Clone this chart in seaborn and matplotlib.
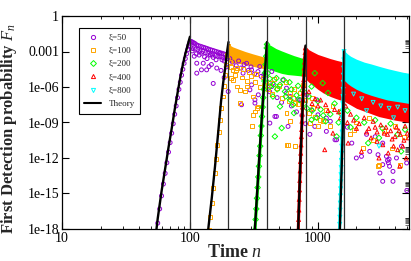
import numpy as np
import matplotlib
matplotlib.use("Agg")
import matplotlib.pyplot as plt
import seaborn as sns
from matplotlib.lines import Line2D
from matplotlib.ticker import FixedLocator, LogLocator, NullFormatter

# values: n and log10(F_n)
xis = [50, 100, 200, 400, 800]
labels = ['ξ=50', 'ξ=100', 'ξ=200', 'ξ=400', 'ξ=800']
colors = ['#9400d3', '#ffa500', '#00ff00', '#ff0000', '#00ffff']
markers = ['o', 's', 'D', '^', 'v']
peak_n = [100, 200, 400, 800, 1600]

# --- xi = 50 ---
theory50 = [(53, -19.3), (56, -17.1), (60, -14.8), (64, -12.9), (68, -11.1), (72, -9.5), (76, -7.9),
            (80, -6.5), (84, -5.2), (88, -4.1), (92, -3.2), (96, -2.45), (100, -1.75)]
rise50 = [(54, -18.6), (56, -17.5), (58, -16.3), (60, -15.2), (62, -14.2), (64, -13.3), (66, -12.4),
          (68, -11.5), (70, -10.7), (72, -9.9), (74, -9.1), (76, -8.3), (78, -7.6), (80, -6.9),
          (82, -6.2), (84, -5.6), (86, -5.0), (88, -4.5), (90, -4.0), (92, -3.6), (94, -3.2),
          (96, -2.85), (98, -2.5), (100, -2.2)]
scat50 = [(102, -2.15), (104, -2.2), (106, -2.25), (108, -2.3), (110, -2.35), (113, -2.45), (116, -2.5),
          (120, -2.55), (124, -2.6), (128, -2.65), (132, -2.7), (136, -2.75), (140, -2.8), (145, -2.85),
          (150, -2.9), (155, -2.95), (160, -3.0), (166, -3.05), (172, -3.1), (178, -3.15), (184, -3.2),
          (190, -3.25), (196, -3.3),
          (101, -2.6), (105, -2.75), (110, -2.8), (115, -2.85), (120, -2.95), (126, -3.0), (132, -3.1),
          (138, -3.15), (144, -3.25), (150, -3.3), (158, -3.35), (165, -3.4), (172, -3.45), (180, -3.5),
          (188, -3.55), (196, -3.6),
          (104, -2.95), (112, -3.2), (118, -3.3), (123, -3.15), (130, -3.45), (144, -3.3), (160, -3.7),
          (171, -3.15), (185, -3.8), (108, -3.4), (136, -3.6), (152, -3.5), (178, -3.7),
          (113, -3.99), (123, -4.55), (127, -3.99), (135, -4.55), (141, -4.27), (147, -4.1), (152, -5.7),
          (199, -6.38), (113, -4.83), (162, -4.4), (175, -4.6), (185, -5.2), (192, -4.3),
          (205, -3.6), (215, -3.9), (230, -4.2), (240, -3.8), (250, -4.4), (265, -4.1), (285, -4.6),
          (300, -4.3), (320, -4.9), (340, -4.7), (360, -5.1), (390, -5.0),
          (260, -4.83), (277, -4.0), (294, -6.24), (303, -5.82), (303, -4.55), (322, -7.08), (342, -6.66),
          (351, -4.27), (378, -4.97), (253, -7.5), (436, -4.69), (436, -5.96), (445, -5.67), (474, -8.49),
          (532, -5.4), (568, -6.1), (568, -6.52), (608, -6.8), (700, -7.08), (724, -7.08), (820, -6.66),
          (892, -7.93), (978, -7.08), (1164, -8.63),
          (420, -6.4), (480, -6.9), (520, -7.3), (620, -7.6), (680, -8.1), (750, -8.4), (800, -9.1),
          (322, -7.36), (461, -8.49), (421, -9.05), (584, -9.33), (865, -10.0), (945, -9.33), (1000, -8.35),
          (1164, -9.75), (1400, -10.46), (1360, -10.46), (1840, -10.74), (1996, -12.0), (2190, -11.86),
          (2540, -11.44), (2950, -11.72), (3430, -11.86), (3210, -12.56), (3860, -13.13), (4110, -12.0),
          (3210, -13.97), (3860, -13.97), (4940, -12.42), (4950, -14.75), (3630, -12.7), (3050, -13.27),
          (3210, -10.74), (3500, -12.2), (3550, -12.4), (3600, -12.1), (2800, -10.2), (4500, -11.0),
          (2400, -10.0), (1700, -9.4), (1250, -8.9)]

# --- xi = 100 ---
theory100 = [(136, -19.0), (140, -17.7), (148, -15.4), (157, -12.7), (166, -9.9), (175, -7.2), (182, -5.6),
             (188, -4.5), (194, -3.2), (200, -2.2)]
rise100 = [(140, -18.1), (144, -17.0), (148, -15.8), (152, -14.5), (156, -13.3), (160, -12.1), (164, -10.9),
           (168, -9.8), (172, -8.8), (176, -7.8), (180, -6.8), (184, -5.9), (188, -5.0), (192, -4.1),
           (196, -3.3), (200, -2.5)]
band100_n = [200, 204, 215, 240, 270, 310, 360, 400]
band100_hi = [-2.35, -2.45, -2.6, -2.8, -3.0, -3.2, -3.4, -3.55]
band100_lo = [-3.9, -3.9, -3.95, -4.0, -4.1, -4.25, -4.4, -4.5]
scat100 = [(205, -3.9), (210, -4.3), (218, -5.4), (211, -5.25), (233, -5.96), (245, -6.24), (268, -6.38),
           (245, -7.36), (277, -5.96), (311, -6.8), (322, -8.07), (342, -7.65), (303, -9.33), (421, -5.67),
           (608, -6.52), (663, -7.36), (920, -7.78), (1164, -7.93), (865, -9.05), (1030, -8.77),
           (568, -10.88), (663, -10.96), (3000, -12.6), (311, -8.35), (333, -7.78), (568, -8.2),
           (608, -8.91), (584, -10.88), (663, -11.02), (1000, -9.33), (1780, -10.0), (2260, -11.16),
           (2950, -12.7), (4370, -12.56), (230, -4.6), (260, -4.5), (290, -4.7), (330, -4.9), (370, -5.2),
           (450, -5.3), (500, -5.9), (560, -5.6), (650, -6.2), (720, -6.5), (760, -5.8), (900, -6.9),
           (1300, -7.6), (1500, -8.0), (2000, -9.0), (2500, -8.6), (3300, -9.7), (4000, -9.3),
           (4700, -10.2), (2700, -10.5), (3800, -11.2), (1900, -9.6),
           (215, -4.6), (225, -5.0), (235, -4.4), (255, -5.2), (280, -5.5), (300, -5.1), (320, -5.6),
           (350, -6.0), (380, -5.8), (410, -6.2), (440, -6.6), (480, -6.1), (520, -6.9), (590, -7.2),
           (640, -6.9), (700, -7.4), (800, -7.1), (850, -8.2), (950, -8.5), (1100, -8.9), (1250, -9.3)]

# --- xi = 200 ---
theory200 = [(314, -19.5), (322, -17.9), (332, -15.6), (342, -13.3), (352, -11.1), (362, -9.0), (372, -7.1),
             (382, -5.3), (392, -3.6), (400, -2.2)]
rise200 = [(322, -18.1), (326, -17.2), (330, -16.3), (334, -15.4), (338, -14.5), (342, -13.6), (346, -12.7),
           (350, -11.8), (354, -11.0), (358, -10.1), (362, -9.3), (366, -8.5), (370, -7.7), (374, -6.9),
           (378, -6.2), (382, -5.5), (386, -4.8), (390, -4.1), (394, -3.4), (398, -2.7), (400, -2.4)]
band200_n = [400, 405, 430, 470, 520, 580, 650, 720, 800]
band200_hi = [-2.3, -2.35, -2.5, -2.75, -2.95, -3.15, -3.35, -3.5, -3.65]
band200_lo = [-4.4, -4.45, -4.55, -4.7, -4.85, -4.95, -5.0, -5.05, -5.1]
scat200 = [(406, -4.83), (474, -5.25), (505, -5.82), (553, -6.38), (445, -6.8), (608, -7.08), (638, -7.5),
           (892, -5.96), (945, -4.83), (1090, -5.67), (421, -5.96), (505, -7.65), (521, -9.47),
           (461, -10.18), (892, -8.77), (1400, -10.18), (2470, -10.74), (4470, -11.44), (420, -5.3),
           (540, -5.4), (600, -5.6), (700, -5.9), (760, -6.3), (850, -6.8), (1000, -7.2), (1200, -6.5),
           (1350, -7.4), (1500, -8.2), (1700, -8.0), (2000, -8.6), (2300, -9.0), (2800, -8.8), (3200, -9.5),
           (3700, -9.1), (4200, -10.0), (4800, -9.6), (3000, -10.3), (1800, -9.4), (650, -8.2), (780, -7.4),
           (1100, -8.4), (450, -5.8), (480, -6.2), (560, -6.8), (620, -6.2), (680, -6.7), (720, -7.1),
           (820, -7.8), (900, -8.0), (980, -8.6), (1050, -7.9), (1150, -8.9), (1250, -8.3), (1450, -9.0)]

# --- xi = 400 ---
theory400 = [(690, -19.3), (702, -17.9), (716, -15.0), (730, -12.2), (745, -9.8), (760, -7.6), (775, -5.6),
             (790, -3.7), (800, -2.5)]
rise400 = [(702, -18.0), (706, -17.2), (710, -16.4), (714, -15.5), (718, -14.7), (722, -13.9), (726, -13.1),
           (730, -12.3), (734, -11.6), (738, -10.9), (742, -10.2), (746, -9.6), (750, -8.9), (754, -8.3),
           (758, -7.7), (762, -7.1), (766, -6.5), (770, -5.9), (774, -5.4), (778, -4.9), (782, -4.4),
           (786, -3.9), (790, -3.5), (794, -3.1), (798, -2.7)]
band400_n = [800, 815, 850, 900, 1000, 1100, 1250, 1400, 1600, 2000, 3000, 4000, 5200]
band400_hi = [-2.5, -2.65, -2.85, -3.0, -3.25, -3.4, -3.6, -3.75, -3.9, -4.1, -4.5, -4.7, -4.9]
band400_lo = [-5.2, -5.4, -5.6, -5.8, -6.2, -6.5, -6.8, -7.0, -7.2, -7.8, -8.5, -8.8, -9.0]
scat400 = [(1130, -11.3), (1310, -9.9), (1720, -10.74), (2190, -11.44), (3540, -11.58), (4360, -12.7),
           (3210, -10.88), (3000, -12.0), (2600, -10.3), (4000, -10.2), (4600, -11.0), (4900, -12.0),
           (2000, -9.5), (2400, -9.8), (3300, -9.9), (3800, -10.4), (4300, -9.7), (1500, -8.6), (1200, -8.0),
           (1000, -7.6), (900, -7.4), (1700, -9.0), (2800, -9.4), (3500, -10.0), (4700, -10.5), (5000, -9.9),
           (850, -6.4), (950, -7.0), (1050, -7.1), (1150, -7.5), (1350, -7.9), (1450, -8.1),
           (1650, -7.6), (1800, -8.3), (1900, -8.8), (2100, -9.1), (2300, -8.6), (2500, -9.5), (2700, -8.9),
           (2900, -9.8), (3100, -9.2), (3400, -9.4), (3700, -9.7), (4100, -9.4), (4400, -10.0), (4800, -9.3),
           (5100, -10.3), (3900, -11.0), (4200, -11.3), (2900, -10.6)]

# --- xi = 800 ---
theory800 = [(1460, -19.5), (1485, -17.9), (1510, -15.2), (1535, -12.6), (1555, -10.5), (1575, -8.0),
             (1590, -5.8), (1600, -3.0)]
rise800 = [(1475, -18.2), (1480, -17.6), (1485, -17.0), (1490, -16.4), (1495, -15.8), (1500, -15.2),
           (1505, -14.6), (1510, -14.0), (1515, -13.4), (1520, -12.8), (1525, -12.2), (1530, -11.6),
           (1535, -11.0), (1540, -10.4), (1545, -9.8), (1550, -9.2), (1555, -8.6), (1560, -8.0),
           (1565, -7.4), (1570, -6.8), (1575, -6.2), (1580, -5.6), (1585, -5.0), (1590, -4.4),
           (1595, -3.7), (1600, -3.0)]
band800_n = [1600, 1630, 1700, 1800, 2000, 2300, 2600, 3000, 3500, 4000, 4600, 5200]
band800_hi = [-2.85, -3.0, -3.2, -3.4, -3.65, -3.9, -4.05, -4.25, -4.45, -4.6, -4.75, -4.85]
band800_lo = [-5.4, -5.5, -5.7, -5.9, -6.2, -6.5, -6.7, -6.9, -7.1, -7.2, -7.3, -7.4]
scat800 = [(1900, -6.6), (2200, -7.0), (2700, -7.3), (3100, -7.6), (3600, -7.8), (4200, -7.7), (4800, -8.0),
           (2400, -8.0), (3900, -8.6), (3000, -11.0)]

theories = [theory50, theory100, theory200, theory400, theory800]
rises = [rise50, rise100, rise200, rise400, rise800]
scats = [scat50, scat100, scat200, scat400, scat800]
bands = [None, (band100_n, band100_lo, band100_hi), (band200_n, band200_lo, band200_hi),
         (band400_n, band400_lo, band400_hi), (band800_n, band800_lo, band800_hi)]


def unpack(pts):
    a = np.array(pts, dtype=float)
    return a[:, 0], 10.0 ** a[:, 1]


sns.set_theme(style='ticks')
plt.rcParams['font.family'] = ['Liberation Serif', 'DejaVu Serif']
plt.rcParams['mathtext.fontset'] = 'custom'
plt.rcParams['mathtext.rm'] = 'Liberation Serif'
plt.rcParams['mathtext.it'] = 'Liberation Serif:italic'
plt.rcParams['mathtext.bf'] = 'Liberation Serif:bold'

fig = plt.figure(figsize=(4.11, 2.61), dpi=100)
ax = fig.add_axes([62 / 411, 1 - 229 / 261, 347 / 411, 213 / 261])
ax.set_xscale('log')
ax.set_yscale('log')

# dense parts after the peak
for k, b in enumerate(bands):
    if b is None:
        continue
    bn, blo, bhi = b
    ax.fill_between(bn, 10.0 ** np.array(blo), 10.0 ** np.array(bhi), color=colors[k], lw=0, zorder=1 + 0.1 * k)

# scattered simulation points
for k in range(5):
    n, F = unpack(scats[k])
    sns.scatterplot(x=n, y=F, marker=markers[k], s=8, color=colors[k], facecolor='none',
                    edgecolor=colors[k], linewidth=0.7, ax=ax, legend=False, zorder=2)

# rising simulation points
for k in range(5):
    n, F = unpack(rises[k])
    if k >= 2:
        ax.plot(n, F, color=colors[k], lw=2.2, zorder=2.5)
    sns.scatterplot(x=n, y=F, marker=markers[k], s=8, color=colors[k], facecolor='none',
                    edgecolor=colors[k], linewidth=0.7, ax=ax, legend=False, zorder=3)

# theory
for k in range(5):
    n, F = unpack(theories[k])
    sns.lineplot(x=n, y=F, color='black', lw=1.7, sort=False, estimator=None, ax=ax, zorder=4)
for p in peak_n:
    ax.axvline(p, color='#303030', lw=0.9, zorder=4)

ax.set_xlim(10, 5150)
ax.set_ylim(1e-18, 1)

ax.yaxis.set_major_locator(FixedLocator([1e-18, 1e-15, 1e-12, 1e-9, 1e-6, 1e-3, 1]))
ax.set_yticklabels(['1e-18', '1e-15', '1e-12', '1e-09', '1e-06', '0.001', '1'])
ymin = [m * 10.0 ** e for e in (-18, -15, -12, -9, -6, -3) for m in range(2, 10)]
ax.yaxis.set_minor_locator(FixedLocator(ymin))
ax.yaxis.set_minor_formatter(NullFormatter())
ax.xaxis.set_major_locator(FixedLocator([10, 100, 1000]))
ax.set_xticklabels(['10', '100', '1000'])
ax.xaxis.set_minor_locator(LogLocator(base=10, subs=range(2, 10)))
ax.xaxis.set_minor_formatter(NullFormatter())

ax.tick_params(which='both', direction='in', top=True, right=True, colors='black', labelsize=10)
ax.tick_params(which='major', length=5, pad=2, width=0.8)
ax.tick_params(which='minor', length=2.5, width=0.6)
ax.tick_params(axis='y', which='minor', left=False, right=True, width=0.4, length=3)
for s in ax.spines.values():
    s.set_linewidth(0.9)
    s.set_color('black')

ax.set_xlabel(r'Time $n$', fontsize=13, fontweight='bold')
ax.set_ylabel(r'First Detection probability $F_n$', fontsize=12, fontweight='bold')
ax.xaxis.set_label_coords(0.496, -0.07)
ax.yaxis.set_label_coords(-0.125, 0.47)

handles = [Line2D([], [], marker=markers[k], ls='none', mfc='none', mec=colors[k], ms=3.0, mew=0.7)
           for k in range(5)]
handles.append(Line2D([], [], color='black', lw=1.5))
leg = ax.legend(handles, labels + ['Theory'], loc='upper left', bbox_to_anchor=(0.049, 0.944),
                borderaxespad=0, fontsize=6.5, frameon=True, fancybox=False, framealpha=1,
                edgecolor='black', labelspacing=0.55, handlelength=1.8, handletextpad=0.9,
                borderpad=0.6)
leg.get_frame().set_linewidth(0.8)
leg.set_zorder(10)

fig.savefig('out.png', dpi=100)
